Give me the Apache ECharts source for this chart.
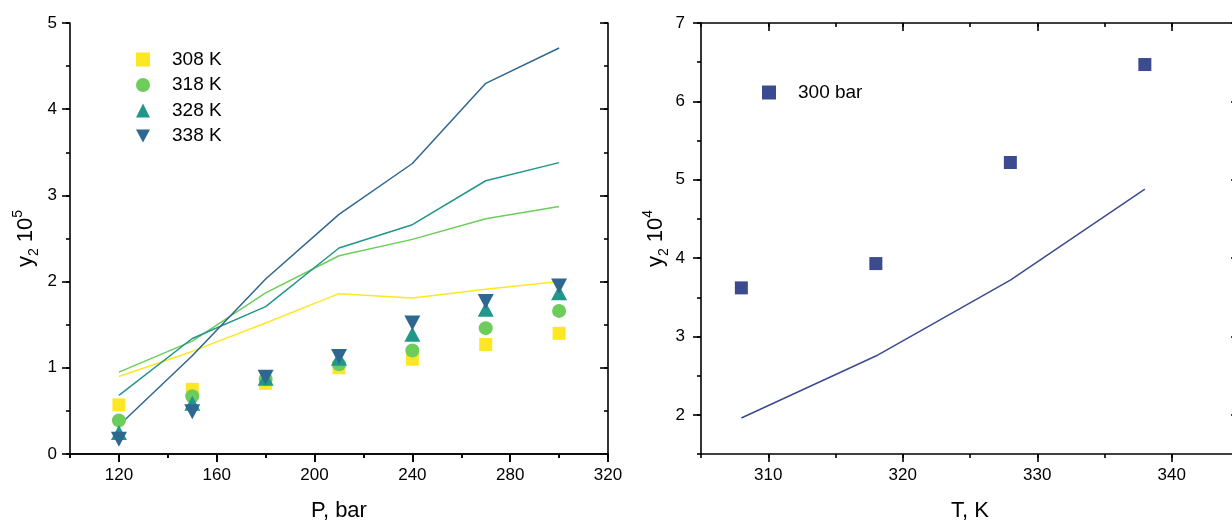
<!DOCTYPE html>
<html>
<head>
<meta charset="utf-8">
<script src="https://cdn.jsdelivr.net/npm/echarts@6/dist/echarts.min.js"></script>
<style>
  html, body { margin: 0; padding: 0; background: #fff; }
  #chart { width: 1232px; height: 522px; }
</style>
</head>
<body>
<div id="chart"></div>
<script>
// Solubility y2 versus pressure at four temperatures (experiment = markers, model = lines)
const pressure = [120, 150, 180, 210, 240, 270, 300];
const exp308 = [0.57, 0.75, 0.82, 1.00, 1.10, 1.27, 1.40];
const exp318 = [0.39, 0.67, 0.87, 1.04, 1.20, 1.46, 1.66];
const exp328 = [0.25, 0.59, 0.88, 1.11, 1.39, 1.68, 1.87];
const exp338 = [0.17, 0.49, 0.89, 1.13, 1.52, 1.77, 1.95];
const calc308 = [0.90, 1.19, 1.52, 1.86, 1.81, 1.91, 2.00];
const calc318 = [0.95, 1.31, 1.87, 2.30, 2.49, 2.73, 2.87];
const calc328 = [0.68, 1.34, 1.71, 2.39, 2.66, 3.17, 3.38];
const calc338 = [0.33, 1.14, 2.03, 2.78, 3.37, 4.30, 4.71];

// Solubility y2 versus temperature at 300 bar
const temperature = [308, 318, 328, 338];
const exp300bar = [3.62, 3.93, 5.22, 6.47];
const calc300bar = [1.96, 2.75, 3.72, 4.88];

// Labelled tick values
const pTicks = [120, 160, 200, 240, 280, 320];
const yLeftTicks = [0, 1, 2, 3, 4, 5];
const tTicks = [310, 320, 330, 340];
const yRightTicks = [2, 3, 4, 5, 6, 7];

const FONT = '"Liberation Sans", Arial, sans-serif';
const INK = '#000';
const C308 = '#fde725', C318 = '#6ccd5a', C328 = '#21968a', C338 = '#2f6790';
const NAVY = '#3c4a90';
const DOWN_TRI = 'path://M0,0 L16,0 L8,15 Z';

function pairs(xs, ys) { return xs.map((x, i) => [x, ys[i]]); }

const lineStyle = { color: INK, width: 1.6 };

function xAxes(grid, min, max, step, majors, name) {
  const base = { type: 'value', gridIndex: grid, min: min, max: max, interval: step, splitLine: { show: false } };
  return [
    Object.assign({}, base, {
      position: 'bottom', name: name, nameLocation: 'middle', nameGap: 46, nameMoveOverlap: false,
      nameTextStyle: { fontSize: 22, color: INK, fontFamily: FONT },
      axisLine: { show: true, lineStyle: lineStyle },
      axisTick: { show: true, length: 4, lineStyle: lineStyle },
      axisLabel: { customValues: majors, margin: 13, fontSize: 17, color: INK, fontFamily: FONT }
    }),
    Object.assign({}, base, {
      position: 'bottom', axisLine: { show: false },
      axisTick: { show: true, customValues: majors, length: 8, lineStyle: lineStyle },
      axisLabel: { show: false }
    }),
    Object.assign({}, base, {
      position: 'top', axisLine: { show: true, lineStyle: lineStyle },
      axisTick: { show: true, inside: true, length: 4, lineStyle: lineStyle },
      axisLabel: { show: false }
    }),
    Object.assign({}, base, {
      position: 'top', axisLine: { show: false },
      axisTick: { show: true, inside: true, customValues: majors, length: 8, lineStyle: lineStyle },
      axisLabel: { show: false }
    })
  ];
}

function yAxes(grid, min, max, step, majors, exponent, labelMargin, nameGap) {
  const base = { type: 'value', gridIndex: grid, min: min, max: max, interval: step, splitLine: { show: false } };
  return [
    Object.assign({}, base, {
      position: 'left',
      name: '{b|y}{sub|2}{b| 10}{sup|' + exponent + '}',
      nameLocation: 'middle', nameGap: nameGap, nameMoveOverlap: false,
      nameTextStyle: {
        color: INK, fontFamily: FONT,
        rich: {
          b: { fontSize: 22, lineHeight: 30, verticalAlign: 'middle', color: INK, fontFamily: FONT },
          sub: { fontSize: 14, lineHeight: 14, verticalAlign: 'bottom', color: INK, fontFamily: FONT },
          sup: { fontSize: 14, lineHeight: 14, verticalAlign: 'top', color: INK, fontFamily: FONT }
        }
      },
      axisLine: { show: true, lineStyle: lineStyle },
      axisTick: { show: true, length: 4, lineStyle: lineStyle },
      axisLabel: { customValues: majors, margin: labelMargin, fontSize: 17, color: INK, fontFamily: FONT }
    }),
    Object.assign({}, base, {
      position: 'left', axisLine: { show: false },
      axisTick: { show: true, customValues: majors, length: 8, lineStyle: lineStyle },
      axisLabel: { show: false }
    }),
    Object.assign({}, base, {
      position: 'right', axisLine: { show: true, lineStyle: lineStyle },
      axisTick: { show: true, inside: true, length: 4, lineStyle: lineStyle },
      axisLabel: { show: false }
    }),
    Object.assign({}, base, {
      position: 'right', axisLine: { show: false },
      axisTick: { show: true, inside: true, customValues: majors, length: 8, lineStyle: lineStyle },
      axisLabel: { show: false }
    })
  ];
}

function modelLine(name, xs, ys, color, axis) {
  return {
    type: 'line', name: name, data: pairs(xs, ys), xAxisIndex: axis, yAxisIndex: axis,
    showSymbol: false, symbol: 'none', lineStyle: { color: color, width: 1.5 }, z: 2, silent: true
  };
}

function points(name, xs, ys, color, symbol, size, axis) {
  return {
    type: 'scatter', name: name, data: pairs(xs, ys), xAxisIndex: axis, yAxisIndex: axis,
    symbol: symbol, symbolSize: size, itemStyle: { color: color, opacity: 1 }, z: 3
  };
}

const chart = echarts.init(document.getElementById('chart'), null, { renderer: 'canvas' });

chart.setOption({
  animation: false,
  backgroundColor: '#fff',
  grid: [
    { left: 70, top: 23, width: 538, height: 431, outerBoundsMode: 'none', containLabel: false },
    { left: 701, top: 23, width: 538, height: 431, outerBoundsMode: 'none', containLabel: false }
  ],
  xAxis: [].concat(
    xAxes(0, 100, 320, 20, pTicks, 'P, bar'),
    xAxes(1, 305, 345, 5, tTicks, 'T, K')
  ),
  yAxis: [].concat(
    yAxes(0, 0, 5, 0.5, yLeftTicks, '5', 13, 29),
    yAxes(1, 1.5, 7, 0.5, yRightTicks, '4', 16, 30)
  ),
  legend: [
    {
      orient: 'vertical', left: 136, top: 50, padding: 0,
      itemWidth: 14, itemHeight: 14, itemGap: 6.5,
      data: ['308 K', '318 K', '328 K', '338 K'],
      textStyle: { fontSize: 19, color: INK, fontFamily: FONT, padding: [0, 0, 0, 17] }
    },
    {
      orient: 'vertical', left: 762, top: 83, padding: 0,
      itemWidth: 14, itemHeight: 14,
      data: ['300 bar'],
      textStyle: { fontSize: 19, color: INK, fontFamily: FONT, padding: [0, 0, 0, 17] }
    }
  ],
  series: [
    modelLine('308 K model', pressure, calc308, C308, 0),
    modelLine('318 K model', pressure, calc318, C318, 0),
    modelLine('328 K model', pressure, calc328, C328, 0),
    modelLine('338 K model', pressure, calc338, C338, 0),
    points('308 K', pressure, exp308, C308, 'rect', 13, 0),
    points('318 K', pressure, exp318, C318, 'circle', 14, 0),
    points('328 K', pressure, exp328, C328, 'triangle', [16, 15], 0),
    points('338 K', pressure, exp338, C338, DOWN_TRI, [16, 15], 0),
    modelLine('300 bar model', temperature, calc300bar, NAVY, 4),
    points('300 bar', temperature, exp300bar, NAVY, 'rect', 13, 4)
  ]
});
</script>
</body>
</html>
